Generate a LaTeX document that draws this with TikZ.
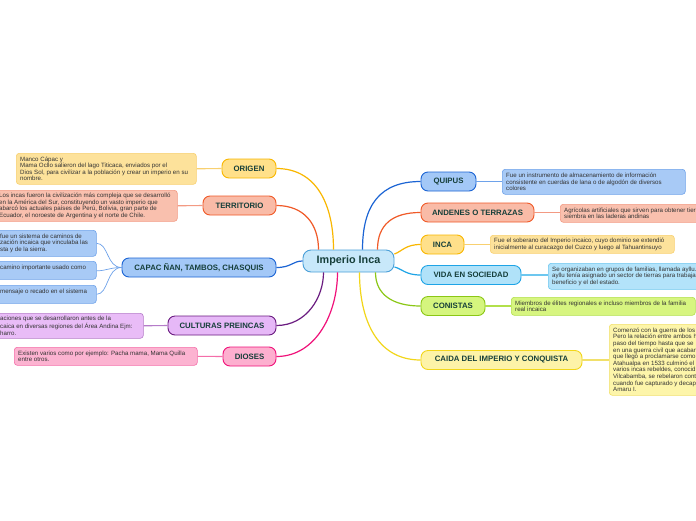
\documentclass[tikz,border=0pt]{standalone}
\usepackage{fontspec}
\setmainfont{Liberation Sans}
\definecolor{labc}{HTML}{163F3A}
\definecolor{notec}{HTML}{333333}
\definecolor{ctrf}{HTML}{C8E8FA}\definecolor{ctrd}{HTML}{4A9FD8}
\definecolor{orf}{HTML}{FFE08A}\definecolor{ord}{HTML}{F9B700}\definecolor{orb}{HTML}{FDE29B}\definecolor{orl}{HTML}{F8D070}
\definecolor{trf}{HTML}{F9BBA7}\definecolor{trd}{HTML}{F05A28}\definecolor{trb}{HTML}{F9C0AE}\definecolor{trl}{HTML}{F39A83}
\definecolor{blf}{HTML}{A3C8F7}\definecolor{bld}{HTML}{1B64D4}\definecolor{blb}{HTML}{A8CAF6}\definecolor{bll}{HTML}{6EA2EA}
\definecolor{puf}{HTML}{E6B8F7}\definecolor{pud}{HTML}{6A1B80}\definecolor{pub}{HTML}{E9BCF7}\definecolor{pul}{HTML}{B57CC9}
\definecolor{pkf}{HTML}{FDAFCF}\definecolor{pkd}{HTML}{F0127A}\definecolor{pkb}{HTML}{FCB3D1}\definecolor{pkl}{HTML}{F46EA9}
\definecolor{cyf}{HTML}{B0E2F9}\definecolor{cyd}{HTML}{1EA4E6}\definecolor{cyb}{HTML}{B3E3FA}\definecolor{cyl}{HTML}{6DC7EF}
\definecolor{grf}{HTML}{D5F57E}\definecolor{grd}{HTML}{8BC716}\definecolor{grb}{HTML}{D7F580}\definecolor{grl}{HTML}{B2E04B}
\definecolor{ylf}{HTML}{FDF3A8}\definecolor{yld}{HTML}{F2D61A}\definecolor{ylb}{HTML}{FDF5AA}\definecolor{yll}{HTML}{F1E06A}
\tikzset{
  branch/.style={draw, rounded corners=7pt, line width=0.9pt, font=\fontsize{7.8}{9}\selectfont\bfseries,
    text=labc, inner sep=0pt, minimum height=19pt},
  notebox/.style={draw, rounded corners=3pt, line width=0.6pt, inner sep=0pt, anchor=north west},
  notetext/.style={font=\fontsize{6.15}{6.6}\selectfont, text=notec, align=left, inner sep=0pt, anchor=west},
  mainline/.style={line width=1.2pt},
  plink/.style={line width=1.1pt}
}
\begin{document}
\begin{tikzpicture}[x=1pt,y=-1pt]
\clip (0,0) rectangle (696,520);
\fill[white] (0,0) rectangle (696,520);
% center
\node[draw=ctrd, fill=ctrf, rounded corners=8pt, line width=0.9pt, minimum width=91pt, minimum height=22pt,
  inner sep=0pt, font=\fontsize{10.8}{12}\selectfont\bfseries, text=labc] (c) at (348.5,261) {Imperio Inca};
% left branches
\node[branch, draw=ord, fill=orf, minimum width=54pt] (o) at (249,168.5) {ORIGEN};
\node[branch, draw=trd, fill=trf, minimum width=73pt] (t) at (239.5,205.5) {TERRITORIO};
\node[branch, draw=bld, fill=blf, minimum width=154pt] (cap) at (199,267.5) {CAPAC ÑAN, TAMBOS, CHASQUIS};
\node[branch, draw=pud, fill=puf, minimum width=108pt] (cu) at (222,325.5) {CULTURAS PREINCAS};
\node[branch, draw=pkd, fill=pkf, minimum width=53pt] (d) at (249.5,356.5) {DIOSES};
% right branches
\node[branch, draw=bld, fill=blf, minimum width=55pt] (q) at (448.5,181.5) {QUIPUS};
\node[branch, draw=trd, fill=trf, minimum width=113pt] (a) at (477.5,212.5) {ANDENES O TERRAZAS};
\node[branch, draw=ord, fill=orf, minimum width=43pt] (i) at (442.5,244.5) {INCA};
\node[branch, draw=cyd, fill=cyf, minimum width=100pt] (v) at (471,275) {VIDA EN SOCIEDAD};
\node[branch, draw=grd, fill=grf, minimum width=64pt] (cn) at (453,306) {CONISTAS};
\node[branch, draw=yld, fill=ylf, minimum width=161pt] (ca) at (501.5,360) {CAIDA DEL IMPERIO Y CONQUISTA};
% main connectors
\draw[mainline, ord] (o.east) .. controls +(40,0) and +(0,-45) .. ([xshift=-15pt]c.north);
\draw[mainline, trd] (t.east) .. controls +(28,0) and +(0,-25) .. ([xshift=-30pt]c.north);
\draw[mainline, bld] (cap.east) .. controls +(15,0) and +(-10,0) .. (c.west);
\draw[mainline, pud] (cu.east) .. controls +(30,0) and +(0,25) .. ([xshift=-25pt]c.south);
\draw[mainline, pkd] (d.east) .. controls +(40,0) and +(0,40) .. ([xshift=-11pt]c.south);
\draw[mainline, bld] (q.west) .. controls +(-40,0) and +(0,-45) .. ([xshift=14pt]c.north);
\draw[mainline, trd] (a.west) .. controls +(-28,0) and +(0,-25) .. ([xshift=29pt]c.north);
\draw[mainline, ord] (i.west) .. controls +(-15,0) and +(8,-3) .. ([yshift=7pt]c.east);
\draw[mainline, cyd] (v.west) .. controls +(-15,0) and +(8,2) .. ([yshift=-6pt]c.east);
\draw[mainline, grd] (cn.west) .. controls +(-28,0) and +(0,22) .. ([xshift=27pt]c.south);
\draw[mainline, yld] (ca.west) .. controls +(-45,0) and +(0,45) .. ([xshift=11pt]c.south);
% note boxes left
\node[notebox, draw=orl, fill=orb, minimum width=180pt, minimum height=31pt] (ob) at (16,153) {};
\node[notetext] (ot) at ([xshift=4pt]ob.west) {Manco Cápac y\\Mama Ocllo salieron del lago Titicaca, enviados por el\\Dios Sol, para civilizar a la población y crear un imperio en su\\nombre.};
\node[notebox, draw=trl, fill=trb, minimum width=187pt, minimum height=31pt] (tb) at (-10,190) {};
\node[notetext] (tt) at ([xshift=9pt]tb.west) {Los incas fueron la civilización más compleja que se desarrolló\\en la América del Sur, constituyendo un vasto imperio que\\abarcó los actuales países de Perú, Bolivia, gran parte de\\Ecuador, el noroeste de Argentina y el norte de Chile.};
\node[notebox, draw=bll, fill=blb, minimum width=106pt, minimum height=26pt] (cb1) at (-10,230) {};
\node[notetext] (ct1) at ([xshift=10pt]cb1.west) {fue un sistema de caminos de\\zación incaica que vinculaba las\\sta y de la sierra.};
\node[notebox, draw=bll, fill=blb, minimum width=106pt, minimum height=18pt] (cb2) at (-10,261) {};
\node[notetext] (ct2) at ([xshift=10pt,yshift=2.5pt]cb2.west) {camino importante usado como};
\node[notebox, draw=bll, fill=blb, minimum width=106pt, minimum height=18pt] (cb3) at (-10,285) {};
\node[notetext] (ct3) at ([xshift=10pt,yshift=2.5pt]cb3.west) {mensaje o recado en el sistema};
\node[notebox, draw=pul, fill=pub, minimum width=153pt, minimum height=25pt] (cub) at (-10,313) {};
\node[notetext] (cut) at ([xshift=10pt]cub.west) {aciones que se desarrollaron antes de la\\caica en diversas regiones del Área Andina Ejm:\\harro.};
\node[notebox, draw=pkl, fill=pkb, minimum width=183pt, minimum height=18pt] (db) at (14,347) {};
\node[notetext] (dt) at ([xshift=4pt]db.west) {Existen varios como por ejemplo: Pacha mama, Mama Quilla\\entre otros.};
% note boxes right
\node[notebox, draw=bll, fill=blb, minimum width=183pt, minimum height=25pt] (qb) at (502,169) {};
\node[notetext] (qt) at ([xshift=4pt]qb.west) {Fue un instrumento de almacenamiento de información\\consistente en cuerdas de lana o de algodón de diversos\\colores};
\node[notebox, draw=trl, fill=trb, minimum width=160pt, minimum height=18pt] (ab) at (560,204) {};
\node[notetext] (at) at ([xshift=4pt]ab.west) {Agrícolas artificiales que sirven para obtener tierra\\siembra en las laderas andinas};
\node[notebox, draw=orl, fill=orb, minimum width=184pt, minimum height=18pt] (ib) at (490,235) {};
\node[notetext] (it) at ([xshift=4pt]ib.west) {Fue el soberano del Imperio incaico, cuyo dominio se extendió\\inicialmente al curacazgo del Cuzco y luego al Tahuantinsuyo};
\node[notebox, draw=cyl, fill=cyb, minimum width=160pt, minimum height=26pt] (vb) at (548,263) {};
\node[notetext] (vt) at ([xshift=4pt]vb.west) {Se organizaban en grupos de familias, llamada ayllu.\\ayllu tenía asignado un sector de tierras para trabajar\\beneficio y el del estado.};
\node[notebox, draw=grl, fill=grb, minimum width=184pt, minimum height=18pt] (cnb) at (511,297) {};
\node[notetext] (cnt) at ([xshift=4pt]cnb.west) {Miembros de élites regionales e incluso miembros de la familia\\real incaica};
\node[notebox, draw=yll, fill=ylb, minimum width=110pt, minimum height=71pt] (cab) at (609,324) {};
\node[notetext] (cat) at ([xshift=4pt]cab.west) {Comenzó con la guerra de los\\Pero la relación entre ambos h\\paso del tiempo hasta que se\\en una guerra civil que acabar\\que llegó a proclamarse como\\Atahualpa en 1533 culminó el\\varios incas rebeldes, conocid\\Vilcabamba, se rebelaron cont\\cuando fue capturado y decap\\Amaru I.};
% links branch to notes
\draw[plink, orl] (ob.east) -- (o.west);
\draw[plink, trl] (tb.east) -- (t.west);
\draw[plink, bll, line width=0.7pt] (cap.west) .. controls +(-15,0) and +(12,0) .. (cb1.east);
\draw[plink, bll, line width=0.7pt] (cap.west) .. controls +(-12,0) and +(10,0) .. ([yshift=-0.5pt]cb2.east);
\draw[plink, bll, line width=0.7pt] (cap.west) .. controls +(-15,0) and +(12,0) .. (cb3.east);
\draw[plink, pul] (cub.east) -- (cu.west);
\draw[plink, pkl] (db.east) -- (d.west);
\draw[plink, bll] (q.east) -- (q.east -| qb.west);
\draw[plink, trl] (a.east) -- (a.east -| ab.west);
\draw[plink, orl] (i.east) -- (i.east -| ib.west);
\draw[plink, cyl] (v.east) -- (v.east -| vb.west);
\draw[plink, grl] (cn.east) -- (cn.east -| cnb.west);
\draw[plink, yll] (ca.east) -- (ca.east -| cab.west);
\end{tikzpicture}
\end{document}
